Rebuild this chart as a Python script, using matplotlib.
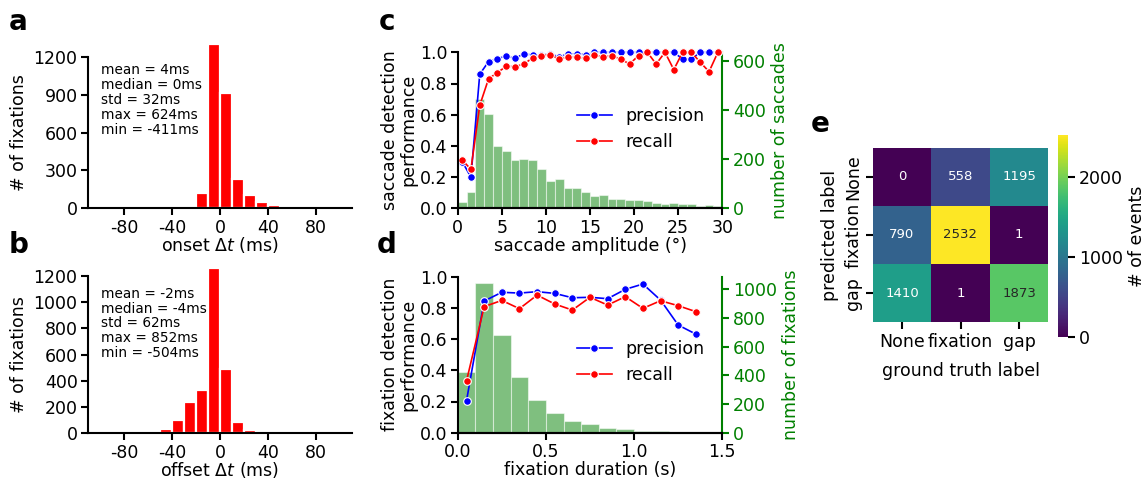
import numpy as np
import matplotlib
matplotlib.use("Agg")
import matplotlib.pyplot as plt

plt.rcParams['font.family'] = 'DejaVu Sans'
plt.rcParams['font.size'] = 12.5
plt.rcParams['axes.unicode_minus'] = False
plt.rcParams['axes.linewidth'] = 1.5
plt.rcParams['xtick.major.width'] = 1.5
plt.rcParams['ytick.major.width'] = 1.5
plt.rcParams['xtick.major.size'] = 5
plt.rcParams['ytick.major.size'] = 5
plt.rcParams['xtick.labelsize'] = 12.5
plt.rcParams['ytick.labelsize'] = 12.5
plt.rcParams['xtick.major.pad'] = 2.5
plt.rcParams['ytick.major.pad'] = 2.5

# ---- data ----
dt_centers = [-85, -75, -65, -55, -45, -35, -25, -15, -5, 5, 15, 25, 35, 45, 55]
onset_counts = [0, 0, 0, 0, 0, 0, 0, 121, 1300, 915, 232, 108, 50, 28, 0]
offset_counts = [18, 13, 0, 10, 33, 104, 235, 327, 1255, 490, 83, 25, 13, 18, 10]
onset_stats = "mean = 4ms\nmedian = 0ms\nstd = 32ms\nmax = 624ms\nmin = -411ms"
offset_stats = "mean = -2ms\nmedian = -4ms\nstd = 62ms\nmax = 852ms\nmin = -504ms"

amp_centers = np.arange(0.5, 30, 1.0)
amp_counts = [26, 66, 444, 383, 253, 233, 196, 200, 196, 161, 111, 119, 84, 84, 66,
              51, 56, 39, 38, 35, 34, 30, 23, 19, 22, 19, 19, 11, 14, 9]
sac_precision = [0.30, 0.20, 0.86, 0.94, 0.96, 0.975, 0.962, 0.99, 0.982, 0.982,
                 0.99, 0.97, 0.99, 0.99, 0.985, 1.0, 1.0, 1.0, 1.0, 1.0,
                 1.0, 1.0, 1.0, 1.0, 1.0, 0.957, 0.957, 1.0, 1.0, 1.0]
sac_recall = [0.31, 0.25, 0.66, 0.83, 0.87, 0.91, 0.908, 0.925, 0.964, 0.979,
              0.985, 0.955, 0.97, 0.968, 0.962, 0.983, 0.97, 0.979, 0.955, 0.925,
              0.979, 1.0, 0.925, 1.0, 0.889, 1.0, 1.0, 0.936, 0.876, 1.0]

dur_centers = np.arange(0.05, 1.4, 0.1)
dur_counts = [423, 1047, 681, 391, 228, 137, 81, 63, 35, 28, 14, 12, 0, 0]
fix_precision = [0.205, 0.844, 0.90, 0.895, 0.904, 0.893, 0.865, 0.868, 0.859, 0.919,
                 0.953, 0.85, 0.69, 0.632]
fix_recall = [0.332, 0.808, 0.848, 0.795, 0.882, 0.825, 0.786, 0.868, 0.818, 0.872,
              0.797, 0.846, 0.814, 0.776]

conf_labels = ["None", "fixation", "gap"]
conf = np.array([[0, 558, 1195],
                 [790, 2532, 1],
                 [1410, 1, 1873]])

# ---- layout helpers ----
W, H = 1145, 478
fig = plt.figure(figsize=(W / 100, H / 100), dpi=100)


def rect(x0, y0, x1, y1):
    return [x0 / W, 1 - y1 / H, (x1 - x0) / W, (y1 - y0) / H]


def hist_panel(r, counts, stats, xlabel, text_y):
    ax = fig.add_axes(r)
    ax.bar(dt_centers, counts, width=10, color='red', edgecolor='white',
           linewidth=1.6, clip_on=False)
    ax.set_xlim(-110, 110)
    ax.set_ylim(0, 1200)
    ax.set_xticks([-80, -40, 0, 40, 80])
    ax.spines[['top', 'right']].set_visible(False)
    ax.set_ylabel('# of fixations')
    ax.set_xlabel(xlabel, labelpad=-1.5)
    ax.text(0.05, text_y, stats, transform=ax.transAxes, fontsize=9.8,
            va='top', ha='left', linespacing=1.08)
    return ax


ax_a = hist_panel(rect(88, 56.7, 352, 208.3), onset_counts, onset_stats,
                  r'onset $\Delta t$ (ms)', 0.958)
ax_a.set_yticks([0, 300, 600, 900, 1200])
ax_b = hist_panel(rect(88, 275.7, 352, 433.3), offset_counts, offset_stats,
                  r'offset $\Delta t$ (ms)', 0.93)
ax_b.set_yticks([0, 200, 400, 600, 800, 1000, 1200])


def perf_panel(r, centers, counts, binw, prec, rec, xlim, xticks, ylim2,
               yticks2, xlabel, ylabel, ylabel2, leg_y):
    ax = fig.add_axes(r)
    ax2 = ax.twinx()
    ax2.bar(centers, counts, width=binw, color='green', alpha=0.5,
            edgecolor='white', linewidth=0.8)
    ax2.set_ylim(0, ylim2)
    ax2.set_yticks(yticks2)
    ax2.spines[['top', 'left']].set_visible(False)
    ax2.spines['right'].set_color('green')
    ax2.tick_params(axis='y', colors='green')
    ax2.set_ylabel(ylabel2, color='green')
    ax.set_zorder(ax2.get_zorder() + 1)
    ax.patch.set_visible(False)
    ax.plot(centers, prec, '-o', color='blue', markersize=5.5, lw=1.2,
            markeredgecolor='white', markeredgewidth=0.8, clip_on=False,
            label='precision')
    ax.plot(centers, rec, '-o', color='red', markersize=5.5, lw=1.2,
            markeredgecolor='white', markeredgewidth=0.8, clip_on=False,
            label='recall')
    ax.set_xlim(*xlim)
    ax.set_xticks(xticks)
    ax.set_ylim(0, 1.0)
    ax.set_yticks([0, 0.2, 0.4, 0.6, 0.8, 1.0])
    ax.spines[['top', 'right']].set_visible(False)
    ax.set_xlabel(xlabel, labelpad=0)
    ax.set_ylabel(ylabel, linespacing=1.0, labelpad=2)
    ax.legend(loc='center right', bbox_to_anchor=(0.96, leg_y), frameon=False,
              fontsize=12.5, handlelength=2.0, handletextpad=0.8,
              labelspacing=0.45, borderaxespad=0)
    return ax, ax2


perf_panel(rect(457.7, 52.3, 722.3, 208.3), amp_centers, amp_counts, 1.0,
           sac_precision, sac_recall, (0, 30), [0, 5, 10, 15, 20, 25, 30],
           634, [0, 200, 400, 600], 'saccade amplitude (°)',
           'saccade detection\nperformance', 'number of saccades', 0.508)

perf_panel(rect(457.7, 276.7, 722.3, 432.7), dur_centers, dur_counts, 0.1,
           fix_precision, fix_recall, (0, 1.5), [0, 0.5, 1.0, 1.5],
           1088, [0, 200, 400, 600, 800, 1000], 'fixation duration (s)',
           'fixation detection\nperformance', 'number of fixations', 0.455)

# ---- confusion matrix ----
ax_e = fig.add_axes(rect(872.7, 147.7, 1048.3, 322.3))
cax = fig.add_axes(rect(1057.7, 135, 1068.3, 336.7))
cmap = plt.get_cmap('viridis')
mesh = ax_e.pcolormesh(conf, cmap=cmap, vmin=0, vmax=conf.max())
ax_e.set_xlim(0, 3)
ax_e.set_ylim(3, 0)


def rel_lum(rgb):
    lin = [c / 12.92 if c <= 0.03928 else ((c + 0.055) / 1.055) ** 2.4 for c in rgb]
    return 0.2126 * lin[0] + 0.7152 * lin[1] + 0.0722 * lin[2]


for i in range(3):
    for j in range(3):
        rgba = cmap(conf[i, j] / conf.max())
        tc = '.15' if rel_lum(rgba[:3]) > 0.408 else 'white'
        ax_e.text(j + 0.5, i + 0.5, str(conf[i, j]), ha='center', va='center',
                  fontsize=9.5, color=tc)
ax_e.set_xticks([0.5, 1.5, 2.5])
ax_e.set_xticklabels(conf_labels)
ax_e.set_yticks([0.5, 1.5, 2.5])
ax_e.set_yticklabels(conf_labels, rotation=90, va='center')
for s in ax_e.spines.values():
    s.set_visible(False)
ax_e.set_xlabel('ground truth label', labelpad=8)
ax_e.set_ylabel('predicted label')
cb = fig.colorbar(mesh, cax=cax)
cb.outline.set_visible(False)
cb.set_ticks([0, 1000, 2000])
cb.set_label('# of events')

# ---- panel letters ----
for letter, x, y in [('a', 18, 30), ('b', 19, 253), ('c', 386.5, 30),
                     ('d', 387, 253), ('e', 820.5, 132)]:
    fig.text(x / W, 1 - y / H, letter, fontsize=20, fontweight='bold',
             ha='center', va='baseline')

fig.savefig('out.png', dpi=100)
